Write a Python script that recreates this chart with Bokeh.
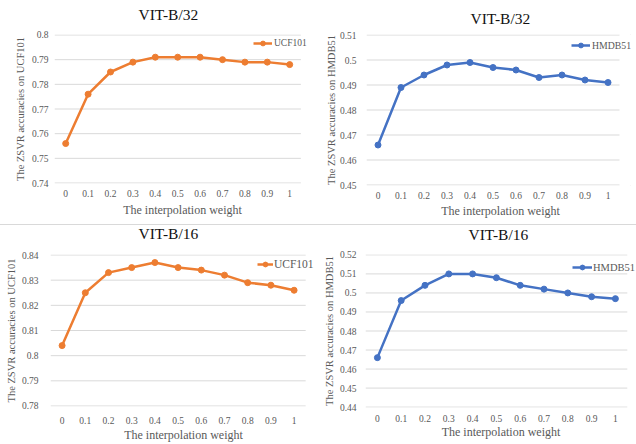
from bokeh.plotting import figure
from bokeh.models import (Range1d, FixedTicker, CustomJSTickFormatter, Title,
                          Legend, LegendItem, ColumnDataSource)
from bokeh.layouts import column, row
from bokeh.embed import file_html
from bokeh.resources import INLINE

# ---------------- data ----------------
weights = ["0", "0.1", "0.2", "0.3", "0.4", "0.5", "0.6", "0.7", "0.8", "0.9", "1"]
ucf101_b32 = [0.756, 0.776, 0.785, 0.789, 0.791, 0.791, 0.791, 0.790, 0.789, 0.789, 0.788]
hmdb51_b32 = [0.466, 0.489, 0.494, 0.498, 0.499, 0.497, 0.496, 0.493, 0.494, 0.492, 0.491]
ucf101_b16 = [0.804, 0.825, 0.833, 0.835, 0.837, 0.835, 0.834, 0.832, 0.829, 0.828, 0.826]
hmdb51_b16 = [0.466, 0.496, 0.504, 0.510, 0.510, 0.508, 0.504, 0.502, 0.500, 0.498, 0.497]
yticks_ucf_b32 = [0.74, 0.75, 0.76, 0.77, 0.78, 0.79, 0.80]
yticks_hmdb_b32 = [0.45, 0.46, 0.47, 0.48, 0.49, 0.50, 0.51]
yticks_ucf_b16 = [0.78, 0.79, 0.80, 0.81, 0.82, 0.83, 0.84]
yticks_hmdb_b16 = [0.44, 0.45, 0.46, 0.47, 0.48, 0.49, 0.50, 0.51, 0.52]
title_b32 = "VIT-B/32"
title_b16 = "VIT-B/16"
ylabel_ucf = "The ZSVR accuracies on UCF101"
ylabel_hmdb = "The ZSVR accuracies on HMDB51"
xlabel = "The interpolation weight"
series_ucf = "UCF101"
series_hmdb = "HMDB51"

x_vals = [float(w) for w in weights]

ORANGE = "#ED7D31"
BLUE = "#4472C4"
GREY = "#595959"
GRID = "#d9d9d9"
FONT = "Liberation Serif, Times New Roman, serif"
FMT = "return String(Number(tick.toFixed(3)));"


def panel(title, ylabel, name, values, color, yticks, g, styles, transparent):
    step = x_vals[1] - x_vals[0]
    half = step / 2
    x0 = x_vals[0] - half
    x1 = x0 + g["fw"] / (g["slot"] / step)
    ystep = yticks[1] - yticks[0]
    eps = ystep * 0.02
    p = figure(title=None, frame_width=g["fw"], frame_height=g["fh"],
               x_range=Range1d(x0, x1),
               y_range=Range1d(yticks[0] - eps, yticks[-1] + eps),
               output_backend="svg", toolbar_location=None,
               min_border_left=g["l"], min_border_right=g["r"],
               min_border_top=g["t"], min_border_bottom=g["b"])
    p.styles = styles
    p.outline_line_color = None
    p.background_fill_color = "white"
    if transparent:
        p.border_fill_color = None
    else:
        p.border_fill_color = "white"

    # title: spacer first (closest to frame), then title text
    spacer = Title(text=" ", text_font_size="1px", standoff=g["sp"])
    p.add_layout(spacer, "above")
    t = Title(text=title, align="left", offset=g["toff"], vertical_align="middle",
              standoff=0, text_font=FONT, text_font_size="15.5px",
              text_font_style="normal", text_color="#111111")
    p.add_layout(t, "above")

    p.xgrid.visible = False
    p.ygrid.visible = False

    ax = p.yaxis[0]
    ax.ticker = FixedTicker(ticks=yticks)
    ax.formatter = CustomJSTickFormatter(code=FMT)
    ax.axis_label = ylabel
    ax.axis_label_text_font = FONT
    ax.axis_label_text_font_size = "10.5px"
    ax.axis_label_text_font_style = "normal"
    ax.axis_label_text_color = GREY
    ax.axis_label_standoff = g["ylso"]
    ax.major_label_text_font = FONT
    ax.major_label_text_font_size = "9.5px"
    ax.major_label_text_color = GREY
    ax.major_label_standoff = g["ytso"]
    ax.axis_line_color = None
    ax.major_tick_line_color = None
    ax.minor_tick_line_color = None
    ax.major_tick_out = 0
    ax.major_tick_in = 0

    xa = p.xaxis[0]
    xa.ticker = FixedTicker(ticks=x_vals)
    xa.formatter = CustomJSTickFormatter(code=FMT)
    xa.axis_label = xlabel
    xa.axis_label_text_font = FONT
    xa.axis_label_text_font_size = "12px"
    xa.axis_label_text_font_style = "normal"
    xa.axis_label_text_color = GREY
    xa.axis_label_standoff = g["xlso"]
    xa.major_label_text_font = FONT
    xa.major_label_text_font_size = "9.5px"
    xa.major_label_text_color = GREY
    xa.major_label_standoff = g["xtso"]
    xa.axis_line_color = None
    xa.major_tick_line_color = None
    xa.minor_tick_line_color = None
    xa.major_tick_out = 0
    xa.major_tick_in = 0

    # horizontal gridlines spanning the category area
    gsrc = ColumnDataSource(dict(x0=[x_vals[0] - half] * len(yticks),
                                 x1=[x_vals[-1] + half] * len(yticks),
                                 y=yticks))
    p.segment(x0="x0", y0="y", x1="x1", y1="y", source=gsrc,
              line_color=GRID, line_width=1)

    src = ColumnDataSource(dict(x=x_vals, y=values))
    ln = p.line("x", "y", source=src, line_color=color, line_width=2.5)
    mk = p.scatter("x", "y", source=src, marker="circle", size=6,
                   fill_color=color, line_color=color)

    leg = Legend(items=[LegendItem(label=name, renderers=[ln, mk])],
                 location=g["leg"], padding=0, margin=0, spacing=0,
                 glyph_width=g["gw"], glyph_height=12, label_height=12,
                 label_standoff=g["gso"], border_line_color=None,
                 background_fill_alpha=0,
                 label_text_font=FONT, label_text_font_size=g["lfs"],
                 label_text_color=GREY)
    p.add_layout(leg)
    return p


top_style = {"outline": "1px solid #d9d9d9", "outline-offset": "-6px"}
bot_style = {"box-shadow": "inset 0 2px 0 0 #ffffff, inset 0 3px 0 0 #d9d9d9"}

g1 = dict(l=54, r=8, t=34, b=39, fw=256, fh=149, slot=22.4, sp=8, toff=84,
          ylso=3, ytso=6, xtso=6, xlso=3, leg=(199, 134), gw=19, gso=2, lfs="9.5px")
g2 = dict(l=48, r=2, t=32, b=39, fw=268, fh=151, slot=23.0, sp=4, toff=104,
          ylso=0, ytso=10, xtso=6, xlso=2, leg=(205, 134), gw=19, gso=2, lfs="9.75px")
g3 = dict(l=50, r=2, t=32, b=38, fw=266, fh=152, slot=23.2, sp=9, toff=88,
          ylso=2, ytso=12, xtso=10, xlso=1, leg=(207, 136), gw=16, gso=1, lfs="11.5px")
g4 = dict(l=47, r=0, t=30, b=39, fw=271, fh=153, slot=23.8, sp=7.5, toff=103,
          ylso=2, ytso=9, xtso=7, xlso=0, leg=(207, 134), gw=20, gso=1, lfs="10.5px")

p1 = panel(title_b32, ylabel_ucf, series_ucf, ucf101_b32, ORANGE, yticks_ucf_b32, g1, top_style, False)
p2 = panel(title_b32, ylabel_hmdb, series_hmdb, hmdb51_b32, BLUE, yticks_hmdb_b32, g2, top_style, False)
p3 = panel(title_b16, ylabel_ucf, series_ucf, ucf101_b16, ORANGE, yticks_ucf_b16, g3, bot_style, True)
p4 = panel(title_b16, ylabel_hmdb, series_hmdb, hmdb51_b16, BLUE, yticks_hmdb_b16, g4, bot_style, True)

layout = column(row(p1, p2, spacing=0), row(p3, p4, spacing=0), spacing=0)

open("out.html", "w").write(file_html(layout, INLINE))
